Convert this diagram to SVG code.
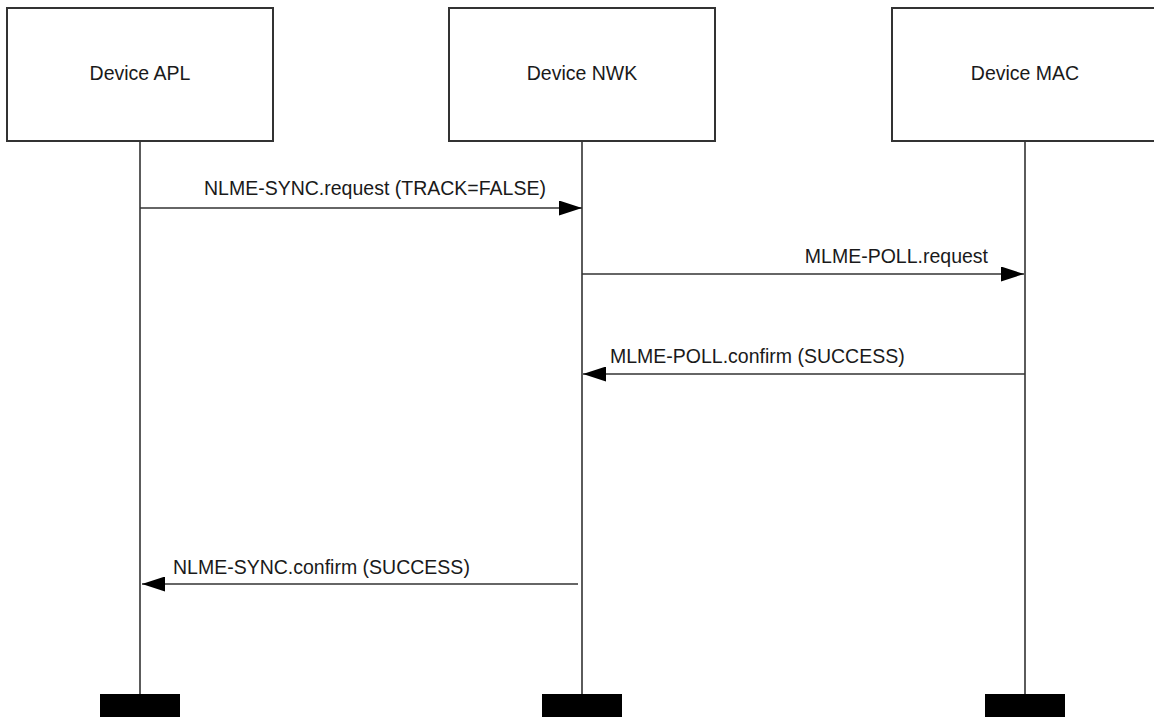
<svg xmlns="http://www.w3.org/2000/svg" width="1154" height="717" viewBox="0 0 1154 717">
<style>
.box{fill:#fff;stroke:#333;stroke-width:2}
.life{stroke:#333;stroke-width:1.6;fill:none}
.msg{stroke:#333;stroke-width:1.6;fill:none}
.end{fill:#000}
text{font-family:"Liberation Sans",Arial,sans-serif;font-size:19.5px;fill:#1a1a1a}
.c{text-anchor:middle}
</style>
<defs>
<marker id="ah" viewBox="0 0 23 15" refX="23" refY="7.5" markerWidth="23" markerHeight="15" markerUnits="userSpaceOnUse" orient="auto">
<path d="M0,0 L23,7.5 L0,15 Z" fill="#000"/>
</marker>
</defs>
<g id="apl">
<rect class="box" x="7" y="8" width="266" height="133"/>
<text class="c" x="140" y="80">Device APL</text>
<line class="life" x1="140" y1="141" x2="140" y2="694"/>
<rect class="end" x="100" y="694" width="80" height="23"/>
</g>
<g id="nwk">
<rect class="box" x="449" y="8" width="266" height="133"/>
<text class="c" x="582" y="80">Device NWK</text>
<line class="life" x1="582" y1="141" x2="582" y2="694"/>
<rect class="end" x="542" y="694" width="80" height="23"/>
</g>
<g id="mac">
<rect class="box" x="892" y="8" width="266" height="133"/>
<text class="c" x="1025" y="80">Device MAC</text>
<line class="life" x1="1025" y1="141" x2="1025" y2="694"/>
<rect class="end" x="985" y="694" width="80" height="23"/>
</g>
<g id="connectors">
<line class="msg" x1="140" y1="208" x2="582" y2="208" marker-end="url(#ah)"/>
<text x="204" y="195">NLME-SYNC.request (TRACK=FALSE)</text>
<line class="msg" x1="582" y1="274" x2="1024" y2="274" marker-end="url(#ah)"/>
<text x="988" y="263" text-anchor="end">MLME-POLL.request</text>
<line class="msg" x1="1025" y1="374" x2="583" y2="374" marker-end="url(#ah)"/>
<text x="610" y="363">MLME-POLL.confirm (SUCCESS)</text>
<line class="msg" x1="578" y1="584" x2="142" y2="584" marker-end="url(#ah)"/>
<text x="173" y="574">NLME-SYNC.confirm (SUCCESS)</text>
</g>
</svg>
